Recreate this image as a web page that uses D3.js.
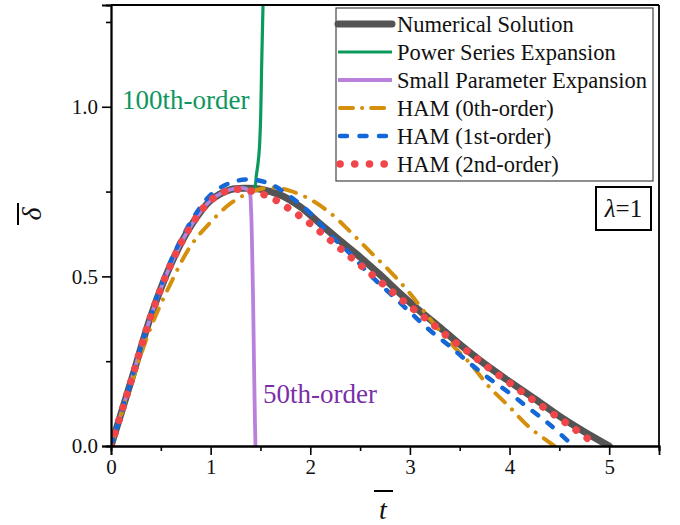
<!DOCTYPE html>
<html>
<head>
<meta charset="utf-8">
<title>delta vs t</title>
<script src="https://d3js.org/d3.v7.min.js"></script>
<style>
	body { margin: 0; background: #fff; }
	text { font-family: "Liberation Serif", "Times New Roman", serif; fill: #111; }
</style>
</head>
<body>
<script>
// values
var tNum  = [0, 0.2, 0.4, 0.6, 0.8, 1.0, 1.2, 1.35, 1.5, 1.7, 1.9, 2.1, 2.3, 2.5, 2.7, 2.9, 3.1, 3.3, 3.5, 3.75, 4.0, 4.25, 4.5, 4.75, 5.0];
var dNum  = [0, 0.19, 0.383, 0.535, 0.648, 0.724, 0.756, 0.76, 0.757, 0.74, 0.705, 0.655, 0.605, 0.557, 0.505, 0.45, 0.398, 0.35, 0.30, 0.242, 0.19, 0.14, 0.088, 0.042, 0];

var tPow  = [0, 0.2, 0.4, 0.6, 0.8, 1.0, 1.2, 1.35, 1.43, 1.46, 1.485, 1.50, 1.512, 1.528];
var dPow  = [0, 0.19, 0.383, 0.535, 0.648, 0.724, 0.756, 0.76, 0.755, 0.80, 0.86, 0.95, 1.12, 1.33];

var tSmall = [0, 0.2, 0.4, 0.6, 0.8, 1.0, 1.2, 1.35, 1.39, 1.405, 1.415, 1.425, 1.435, 1.443, 1.45];
var dSmall = [0, 0.19, 0.383, 0.535, 0.648, 0.724, 0.756, 0.759, 0.748, 0.70, 0.60, 0.45, 0.25, 0.10, 0];

var tHam0 = [0, 0.2, 0.4, 0.6, 0.8, 1.0, 1.2, 1.4, 1.6, 1.8, 2.0, 2.2, 2.4, 2.6, 2.8, 3.0, 3.2, 3.4, 3.6, 3.8, 4.0, 4.2, 4.45];
var dHam0 = [0, 0.18, 0.35, 0.48, 0.59, 0.66, 0.715, 0.748, 0.762, 0.752, 0.727, 0.687, 0.632, 0.573, 0.515, 0.45, 0.375, 0.305, 0.245, 0.173, 0.115, 0.055, 0];

var tHam1 = [0, 0.2, 0.4, 0.6, 0.8, 1.0, 1.2, 1.4, 1.6, 1.8, 2.0, 2.2, 2.4, 2.6, 2.8, 3.0, 3.2, 3.4, 3.6, 3.8, 4.0, 4.2, 4.4, 4.64];
var dHam1 = [0, 0.19, 0.385, 0.545, 0.66, 0.74, 0.776, 0.786, 0.772, 0.735, 0.686, 0.622, 0.567, 0.504, 0.45, 0.395, 0.341, 0.294, 0.244, 0.198, 0.156, 0.11, 0.064, 0];

var tHam2 = [0, 0.2, 0.4, 0.6, 0.8, 1.0, 1.2, 1.4, 1.6, 1.8, 2.0, 2.2, 2.4, 2.6, 2.8, 3.0, 3.2, 3.4, 3.6, 3.8, 4.0, 4.2, 4.4, 4.6, 4.8, 4.86];
var dHam2 = [0, 0.19, 0.383, 0.535, 0.648, 0.724, 0.755, 0.752, 0.733, 0.697, 0.655, 0.607, 0.558, 0.51, 0.46, 0.412, 0.366, 0.318, 0.274, 0.228, 0.186, 0.143, 0.102, 0.061, 0.018, 0];

var xTicks = [0, 1, 2, 3, 4, 5];
var xMinor = [0.5, 1.5, 2.5, 3.5, 4.5, 5.5];
var yTicks = [0, 0.5, 1.0];
var yMinor = [0.25, 0.75, 1.25];

var legendNames = ["Numerical Solution", "Power Series Expansion", "Small Parameter Expansion",
	"HAM (0th-order)", "HAM (1st-order)", "HAM (2nd-order)"];

var W = 680, H = 525;
var margin = {top: 5, right: 21, bottom: 79, left: 111};

var svg = d3.select("body").append("svg")
	.attr("width", W).attr("height", H);

var x = d3.scaleLinear().domain([0, 5.5]).range([margin.left, W - margin.right]);
var y = d3.scaleLinear().domain([0, 1.3]).range([H - margin.bottom, margin.top]);

svg.append("clipPath").attr("id", "plotclip")
	.append("rect")
	.attr("x", x(0)).attr("y", y(1.3))
	.attr("width", x(5.5) - x(0)).attr("height", y(0) - y(1.3));

// series styles
var series = [
	{t: tNum,   d: dNum,   color: "#545454", width: 7,   dash: null,           legDash: null,           cap: "round"},
	{t: tPow,   d: dPow,   color: "#0a9a5c", width: 3.2, dash: null,           legDash: null,           cap: "butt"},
	{t: tSmall, d: dSmall, color: "#b981dc", width: 3.8, dash: null,           legDash: null,           cap: "butt"},
	{t: tHam0,  d: dHam0,  color: "#d4900c", width: 4,   dash: "13,10,0.1,10", legDash: "13,9,0.1,9",   cap: "round"},
	{t: tHam1,  d: dHam1,  color: "#1467d6", width: 4.5, dash: "7,12",         legDash: "7,12.5",       cap: "round"},
	{t: tHam2,  d: dHam2,  color: "#f0464a", width: 7.5, dash: "0.1,13.4",     legDash: "0.1,14.6",     cap: "round"}
];

var line = d3.line()
	.x(function(p) { return x(p[0]); })
	.y(function(p) { return y(p[1]); })
	.curve(d3.curveCatmullRom.alpha(0.5));

var plot = svg.append("g").attr("clip-path", "url(#plotclip)");

series.forEach(function(s) {
	var pts = s.t.map(function(t, i) { return [t, s.d[i]]; });
	plot.append("path")
		.attr("d", line(pts))
		.attr("fill", "none")
		.attr("stroke", s.color)
		.attr("stroke-width", s.width)
		.attr("stroke-linecap", s.cap)
		.attr("stroke-linejoin", "round")
		.attr("stroke-dasharray", s.dash);
});

// axes
var fontSize = 21;
svg.append("g")
	.attr("transform", "translate(0," + y(0) + ")")
	.call(d3.axisBottom(x).tickValues(xTicks).tickSize(9).tickPadding(4).tickFormat(d3.format("d")));
svg.append("g")
	.attr("transform", "translate(0," + y(0) + ")")
	.call(d3.axisBottom(x).tickValues(xMinor).tickSize(5).tickFormat(""));
svg.append("g")
	.attr("transform", "translate(" + x(0) + ",0)")
	.call(d3.axisLeft(y).tickValues(yTicks).tickSize(9).tickPadding(4).tickFormat(d3.format(".1f")));
svg.append("g")
	.attr("transform", "translate(" + x(0) + ",0)")
	.call(d3.axisLeft(y).tickValues(yMinor).tickSize(5).tickFormat(""));

svg.selectAll(".domain").attr("stroke", "#000").attr("stroke-width", 1.8);
svg.selectAll(".tick line").attr("stroke", "#000").attr("stroke-width", 1.6);
svg.selectAll(".tick text")
	.style("font-family", "'Liberation Serif', serif")
	.style("font-size", fontSize + "px")
	.attr("fill", "#111");

// top and right frame
svg.append("line").attr("x1", x(0)).attr("x2", x(5.5)).attr("y1", y(1.3)).attr("y2", y(1.3))
	.attr("stroke", "#000").attr("stroke-width", 1.8);
svg.append("line").attr("x1", x(5.5)).attr("x2", x(5.5)).attr("y1", y(1.3)).attr("y2", y(0))
	.attr("stroke", "#000").attr("stroke-width", 1.8);

// axis titles
svg.append("text")
	.attr("x", 383).attr("y", 519)
	.attr("text-anchor", "middle")
	.style("font-size", "28px").style("font-style", "italic")
	.text("t");
svg.append("line").attr("x1", 374).attr("x2", 393).attr("y1", 491).attr("y2", 491)
	.attr("stroke", "#000").attr("stroke-width", 2);

var yl = svg.append("g").attr("transform", "translate(41,214) rotate(-90)");
yl.append("text")
	.attr("x", 0).attr("y", 0)
	.attr("text-anchor", "middle")
	.style("font-size", "28px").style("font-style", "italic")
	.text("δ");
yl.append("line").attr("x1", -11).attr("x2", 11).attr("y1", -23).attr("y2", -23)
	.attr("stroke", "#000").attr("stroke-width", 2);

// curve annotations
svg.append("text").attr("x", 122).attr("y", 109)
	.style("font-size", "27px").style("fill", "#0f9660")
	.text("100th-order");
svg.append("text").attr("x", 263).attr("y", 403)
	.style("font-size", "27px").style("fill", "#7a2fa8")
	.text("50th-order");

// legend
var lg = svg.append("g");
lg.append("rect")
	.attr("x", 336).attr("y", 8).attr("width", 317).attr("height", 173)
	.attr("fill", "#fff").attr("stroke", "#444").attr("stroke-width", 1.2);
series.forEach(function(s, i) {
	var ly = 24 + i * 28;
	lg.append("line")
		.attr("x1", s.dash ? 340 : 338).attr("x2", s.dash ? 390 : 392)
		.attr("y1", ly).attr("y2", ly)
		.attr("stroke", s.color)
		.attr("stroke-width", s.width)
		.attr("stroke-linecap", s.cap)
		.attr("stroke-dasharray", s.legDash);
	lg.append("text")
		.attr("x", 397).attr("y", ly).attr("dy", "0.35em")
		.style("font-size", "22.5px")
		.text(legendNames[i]);
});

// lambda box
svg.append("rect").attr("x", 596).attr("y", 187).attr("width", 55).attr("height", 43)
	.attr("fill", "#fff").attr("stroke", "#000").attr("stroke-width", 2);
var lt = svg.append("text").attr("x", 623.5).attr("y", 217)
	.attr("text-anchor", "middle").style("font-size", "25px");
lt.append("tspan").style("font-style", "italic").text("λ");
lt.append("tspan").text("=1");
</script>
</body>
</html>
